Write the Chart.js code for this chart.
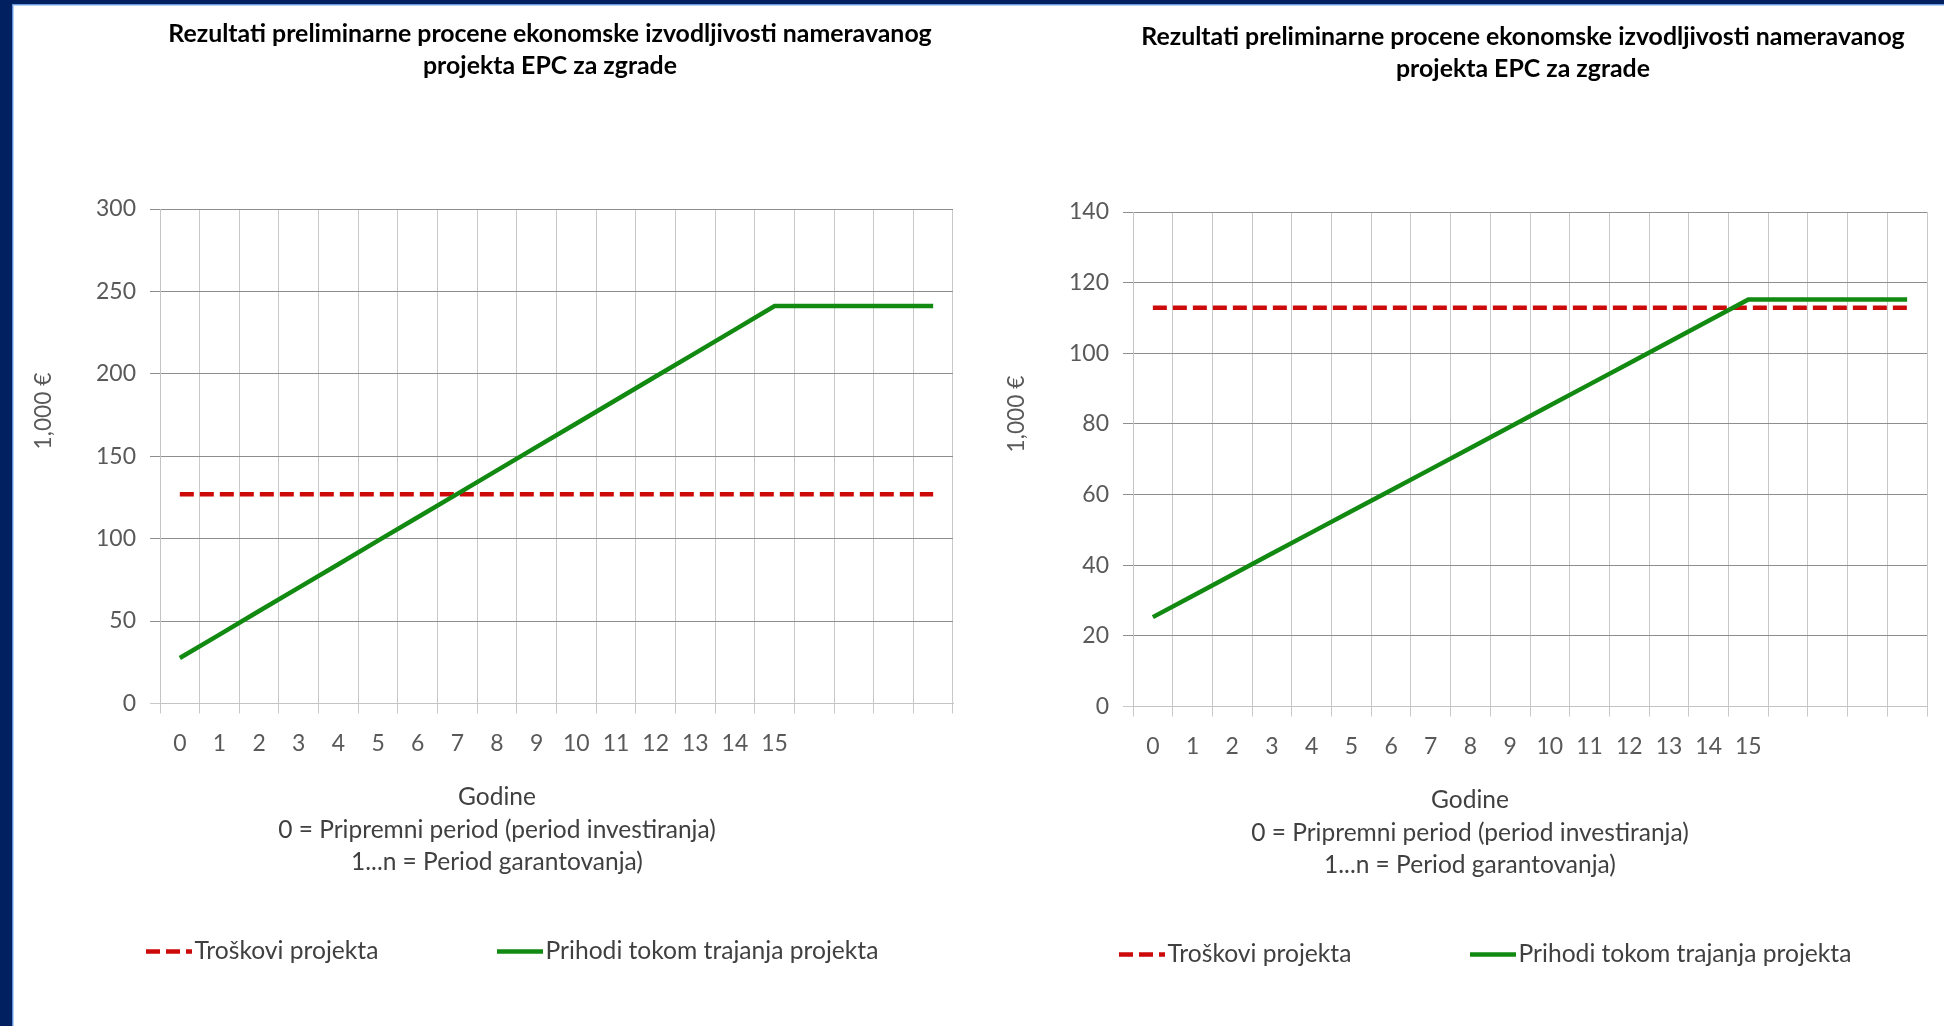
<!DOCTYPE html>
<html>
<head>
<meta charset="utf-8">
<title>Rezultati preliminarne procene ekonomske izvodljivosti</title>
<script src="https://cdn.jsdelivr.net/npm/chart.js@4.4.1/dist/chart.umd.min.js"></script>
<style>
  html, body { margin: 0; padding: 0; background: #ffffff; width: 1944px; height: 1026px; overflow: hidden; }
  canvas { position: absolute; top: 0; }
  #chartA { left: 0; }
  #chartB { left: 985px; }
  .edge { position: absolute; }
  #edgeLeft { left: 0; top: 0; width: 12px; height: 1026px; background: #002060; }
  #edgeLeft2 { left: 12px; top: 4px; width: 1px; height: 1022px; background: #5f8fd8; }
  #edgeLeft3 { left: 13px; top: 5px; width: 1px; height: 1021px; background: #b9d1f2; }
  #edgeTop { left: 0; top: 0; width: 1944px; height: 4px; background: #002060; }
  #edgeTop2 { left: 12px; top: 4px; width: 1932px; height: 1px; background: #6c99de; }
  #edgeTop3 { left: 13px; top: 5px; width: 1931px; height: 1px; background: #bcd3f3; }
</style>
</head>
<body>
<canvas id="chartA" width="985" height="1026"></canvas>
<canvas id="chartB" width="959" height="1026"></canvas>
<div class="edge" id="edgeTop"></div>
<div class="edge" id="edgeTop2"></div>
<div class="edge" id="edgeTop3"></div>
<div class="edge" id="edgeLeft"></div>
<div class="edge" id="edgeLeft2"></div>
<div class="edge" id="edgeLeft3"></div>
<script>
// ---- data ----
const years = ['0', '1', '2', '3', '4', '5', '6', '7', '8', '9', '10', '11', '12', '13', '14', '15', '', '', '', ''];

const titleLines = ['Rezultati preliminarne procene ekonomske izvodljivosti nameravanog', 'projekta EPC za zgrade'];
const axisCaption = ['Godine', '0 = Pripremni period (period investiranja)', '1...n = Period garantovanja)'];
const unitLabel = '1,000 €';
const seriesNames = ['Troškovi projekta', 'Prihodi tokom trajanja projekta'];

// first building group (thousand €)
const costsA = [127, 127, 127, 127, 127, 127, 127, 127, 127, 127, 127, 127, 127, 127, 127, 127, 127, 127, 127, 127];
const revenueA = [27.6, 41.8, 56.1, 70.3, 84.5, 98.8, 113.0, 127.2, 141.4, 155.7, 169.9, 184.1, 198.4, 212.6, 226.8, 241.1, 241.1, 241.1, 241.1, 241.1];
const yTicksA = [0, 50, 100, 150, 200, 250, 300];

// second building group (thousand €)
const costsB = [112.9, 112.9, 112.9, 112.9, 112.9, 112.9, 112.9, 112.9, 112.9, 112.9, 112.9, 112.9, 112.9, 112.9, 112.9, 112.9, 112.9, 112.9, 112.9, 112.9];
const revenueB = [25.3, 31.3, 37.3, 43.3, 49.3, 55.3, 61.2, 67.2, 73.2, 79.2, 85.2, 91.2, 97.2, 103.2, 109.2, 115.2, 115.2, 115.2, 115.2, 115.2];
const yTicksB = [0, 20, 40, 60, 80, 100, 120, 140];

// ---- typography ----
const FONT = 'Lato, "Open Sans", "DejaVu Sans", sans-serif';
const measureCtx = document.createElement('canvas').getContext('2d');
function sizeForWidth(text, weight, width) {
  measureCtx.font = weight + ' 100px ' + FONT;
  return 100 * width / measureCtx.measureText(text).width;
}
const tickSize = sizeForWidth('300', 'normal', 40);
const titleSize = sizeForWidth(titleLines[0], 'bold', 764);
const captionSize = sizeForWidth(axisCaption[1], 'normal', 438);
const legendSize = sizeForWidth(seriesNames[1], 'normal', 333);
const unitSize = sizeForWidth(unitLabel, 'normal', 77);

const COST_COLOR = '#cc0a0a';
const REVENUE_COLOR = '#128a12';
const TEXT_COLOR = '#404040';
const TICK_COLOR = '#595959';

// Title, axis captions and legend, placed relative to the plot area
const textLayer = {
  id: 'textLayer',
  afterDraw(chart) {
    const { ctx, chartArea: a } = chart;
    ctx.save();
    ctx.textAlign = 'center';
    ctx.textBaseline = 'middle';

    ctx.fillStyle = '#000000';
    ctx.font = 'bold ' + titleSize + 'px ' + FONT;
    titleLines.forEach((t, i) => ctx.fillText(t, a.left + 390, a.top - 175 + i * 32));

    ctx.fillStyle = TEXT_COLOR;
    ctx.font = captionSize + 'px ' + FONT;
    axisCaption.forEach((t, i) => ctx.fillText(t, a.left + 337, a.bottom + 94 + i * 32.5));

    ctx.save();
    ctx.translate(a.left - 116, a.top + 202);
    ctx.rotate(-Math.PI / 2);
    ctx.fillStyle = TICK_COLOR;
    ctx.font = unitSize + 'px ' + FONT;
    ctx.fillText(unitLabel, 0, 0);
    ctx.restore();

    // legend: line sample followed by the series name
    const ly = a.bottom + 248;
    const starts = [a.left - 14, a.left + 337];
    chart.data.datasets.forEach((ds, i) => {
      const x0 = starts[i];
      ctx.save();
      ctx.strokeStyle = ds.borderColor;
      ctx.lineWidth = ds.borderWidth;
      ctx.setLineDash(ds.borderDash || []);
      ctx.beginPath();
      ctx.moveTo(x0, ly);
      ctx.lineTo(x0 + 46, ly);
      ctx.stroke();
      ctx.restore();
      ctx.fillStyle = TEXT_COLOR;
      ctx.font = legendSize + 'px ' + FONT;
      ctx.textAlign = 'left';
      ctx.fillText(ds.label, x0 + 48.5, ly);
    });
    ctx.restore();
  }
};

function makeChart(id, costs, revenue, yTicks, area) {
  const canvas = document.getElementById(id);
  const W = canvas.width, H = canvas.height;
  const xAxisHeight = 60;
  const step = yTicks[1] - yTicks[0];
  return new Chart(canvas, {
    type: 'line',
    data: {
      labels: years,
      datasets: [
        {
          label: seriesNames[0], data: costs, borderColor: COST_COLOR, borderWidth: 4.5,
          borderDash: [14, 6], pointRadius: 0, fill: false, tension: 0, order: 2
        },
        {
          label: seriesNames[1], data: revenue, borderColor: REVENUE_COLOR, borderWidth: 4.5,
          pointRadius: 0, fill: false, tension: 0, order: 1
        }
      ]
    },
    options: {
      responsive: false,
      animation: false,
      devicePixelRatio: 1,
      layout: {
        padding: { left: 0, top: area.top, right: W - area.right, bottom: H - area.bottom - xAxisHeight }
      },
      plugins: { legend: { display: false }, title: { display: false }, tooltip: { enabled: false } },
      scales: {
        x: {
          type: 'category',
          offset: true,
          afterFit(scale) { scale.height = xAxisHeight; },
          grid: { offset: true, color: '#c9c9c9', lineWidth: 1, tickLength: 10, drawTicks: true },
          border: { display: true, color: '#c4c4c4', width: 1 },
          ticks: {
            autoSkip: false, maxRotation: 0, minRotation: 0, padding: 16,
            color: TICK_COLOR, font: { family: FONT, size: tickSize }
          }
        },
        y: {
          min: yTicks[0],
          max: yTicks[yTicks.length - 1],
          afterFit(scale) { scale.width = area.left; },
          afterBuildTicks(scale) { scale.ticks = yTicks.map(v => ({ value: v })); },
          grid: {
            color: ctx => (ctx.tick && ctx.tick.value === 0 ? '#c9c9c9' : '#8e8e8e'),
            lineWidth: 1, tickLength: 10, drawTicks: true
          },
          border: { display: true, color: '#c4c4c4', width: 1 },
          ticks: {
            stepSize: step, padding: 14,
            color: TICK_COLOR, font: { family: FONT, size: tickSize }
          }
        }
      }
    },
    plugins: [textLayer]
  });
}

makeChart('chartA', costsA, revenueA, yTicksA, { left: 160, top: 209, right: 953, bottom: 703.5 });
makeChart('chartB', costsB, revenueB, yTicksB, { left: 148, top: 212, right: 942, bottom: 706.5 });
</script>
</body>
</html>
